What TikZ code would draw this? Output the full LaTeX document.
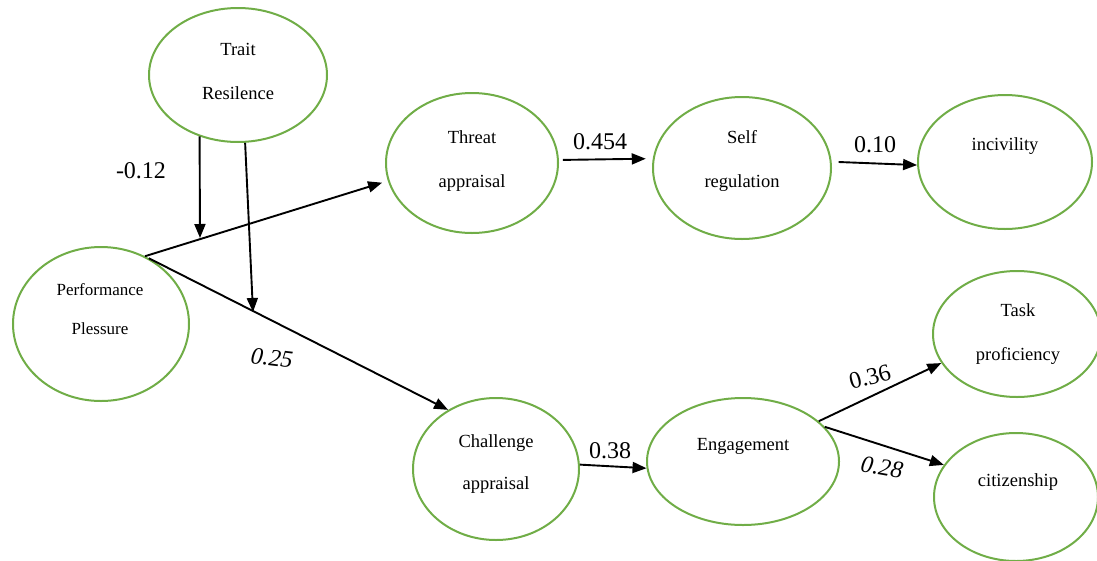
\documentclass[tikz,border=0pt]{standalone}
\usepackage{fontspec}
\setmainfont{Liberation Serif}
\usetikzlibrary{shapes.geometric,arrows.meta,calc}
\definecolor{ovgreen}{HTML}{70AD47}
\begin{document}
\begin{tikzpicture}[x=1pt,y=-1pt,
  latent/.style={draw=ovgreen, ellipse, line width=2pt, inner sep=0pt},
  lbl/.style={font=\fontsize{18.5}{20}\selectfont, anchor=base, inner sep=0pt},
  smalllbl/.style={font=\fontsize{17}{19}\selectfont, anchor=base, inner sep=0pt},
  coef/.style={font=\fontsize{24}{26}\selectfont, inner sep=0pt},
  arr/.style={line width=1.9pt, -{Triangle[length=14pt,width=11pt]}}]
\useasboundingbox (0,0) rectangle (1097,560);

% latent variables
\node[latent, minimum width=178pt, minimum height=134pt] (trait) at (238,75) {};
\node[latent, minimum width=176pt, minimum height=154pt] (perf) at (101,324) {};
\node[latent, minimum width=172pt, minimum height=140pt] (threat) at (472,163) {};
\node[latent, minimum width=178pt, minimum height=142pt] (self) at (742,168) {};
\node[latent, minimum width=174pt, minimum height=134pt] (incivility) at (1005,162) {};
\node[latent, minimum width=166pt, minimum height=142pt] (challenge) at (496,469) {};
\node[latent, minimum width=192pt, minimum height=127pt] (engagement) at (743,461.5) {};
\node[latent, minimum width=168pt, minimum height=126pt] (task) at (1017,334) {};
\node[latent, minimum width=164pt, minimum height=128pt] (citizen) at (1016,497) {};

% texts
\node[lbl] (t1) at (238,55) {Trait};
\node[lbl] (t2) at (238,99) {Resilence};
\node[smalllbl] (p1) at (100,295) {Performance};
\node[smalllbl] (p2) at (100,334) {Plessure};
\node[lbl] (th1) at (472,143) {Threat};
\node[lbl] (th2) at (472,187) {appraisal};
\node[lbl] (s1) at (742,143) {Self};
\node[lbl] (s2) at (742,187) {regulation};
\node[lbl] (i1) at (1005,150) {incivility};
\node[lbl] (c1) at (496,447) {Challenge};
\node[lbl] (c2) at (496,489) {appraisal};
\node[lbl] (e1) at (743,450) {Engagement};
\node[lbl] (k1) at (1018,316) {Task};
\node[lbl] (k2) at (1018,360) {proficiency};
\node[lbl] (z1) at (1018,486) {citizenship};

% moderation end points
\coordinate (m1) at (200,238);
\coordinate (m2) at (253,312);

% connectors
\draw[arr, shorten >=6pt] (perf.57) -- (threat.192);
\draw[arr] (perf.54) -- (challenge.129);
\draw[arr] (trait.238) -- (m1);
\draw[arr] (trait.276) -- (m2);
\draw[arr, shorten <=4pt, shorten >=7pt] (threat.2) -- (self.174);
\draw[arr, shorten <=7pt] (self.4) -- (incivility.182);
\draw[arr] (challenge.3) -- (engagement.184);
\draw[arr] (engagement.28) -- (task.201);
\draw[arr] (engagement.23) -- (citizen.156);

% coefficients
\node[coef] (k012) at (141,171) {-0.12};
\node[coef] (k0454) at (600,142) {0.454};
\node[coef] (k010) at (875,145) {0.10};
\node[coef, font=\fontsize{24}{26}\selectfont\itshape, rotate=-7] (k025) at (272,358) {0.25};
\node[coef] (k038) at (610,451) {0.38};
\node[coef, rotate=15] (k036) at (870,377) {0.36};
\node[coef, font=\fontsize{24}{26}\selectfont\itshape, rotate=-10] (k028) at (882,467) {0.28};
\end{tikzpicture}
\end{document}
